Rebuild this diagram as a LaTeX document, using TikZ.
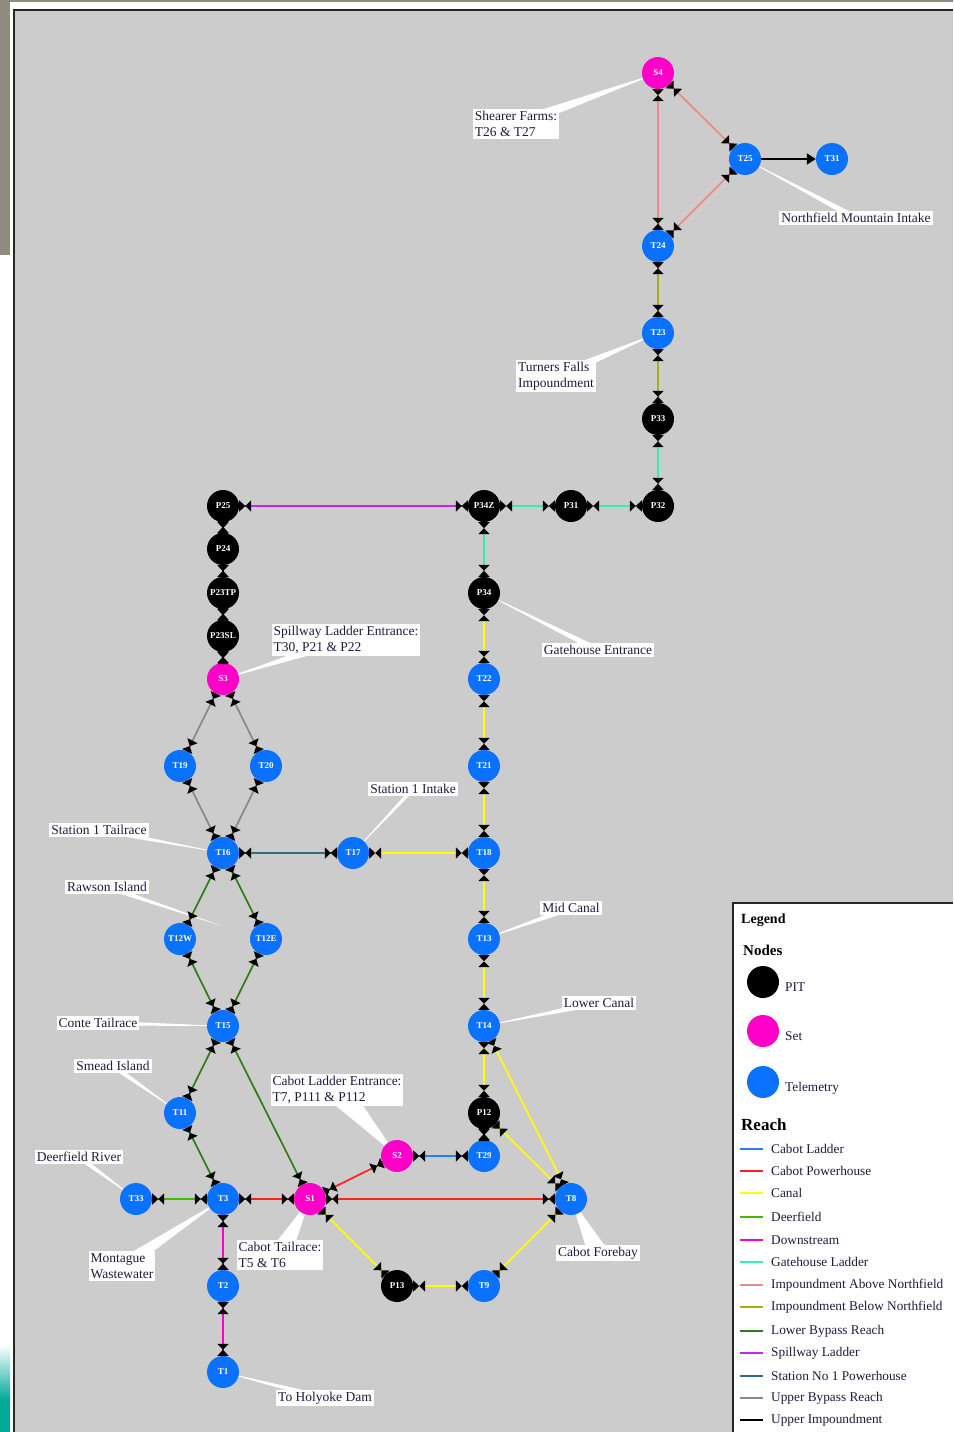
\documentclass[tikz,border=0pt]{standalone}
\usepackage{fontspec}
\setmainfont{Liberation Serif}
\usetikzlibrary{arrows.meta,calc}

\definecolor{panelgray}{HTML}{CCCCCC}
\definecolor{framegray}{HTML}{8F8B7F}
\definecolor{tealbar}{HTML}{00A898}
\definecolor{telblue}{HTML}{0A72FF}
\definecolor{setmag}{HTML}{FF00C8}
\definecolor{lbltext}{HTML}{1C1C40}
\definecolor{cabotladder}{HTML}{2080FF}
\definecolor{cabotpower}{HTML}{FF2020}
\definecolor{canal}{HTML}{FFFF00}
\definecolor{deerfield}{HTML}{44BB00}
\definecolor{downstream}{HTML}{FF00CC}
\definecolor{gatehouse}{HTML}{33EEBB}
\definecolor{impabove}{HTML}{F08888}
\definecolor{impbelow}{HTML}{AAAA22}
\definecolor{lowerbypass}{HTML}{2E7D14}
\definecolor{spillway}{HTML}{CC22EE}
\definecolor{stationone}{HTML}{2F6A8A}
\definecolor{upperbypass}{HTML}{888888}

\pgfdeclarelayer{back}
\pgfdeclarelayer{bg}
\pgfsetlayers{back,bg,main}

\tikzset{
  hg/.tip={Triangle[length=6pt,width=11pt,color=black,fill=black]
           Triangle[length=6pt,width=11pt,reversed,color=black,fill=black]},
  gnode/.style={circle,minimum size=32pt,inner sep=0pt,text=white,
    font=\fontsize{9}{9}\selectfont\bfseries},
  pit/.style={gnode,fill=black},
  setn/.style={gnode,fill=setmag},
  tel/.style={gnode,fill=telblue},
  reach/.style={line width=1.7pt,hg-hg},
  lbl/.style={fill=white,inner sep=2pt,align=left,text=lbltext,
    font=\fontsize{13.5}{16}\selectfont},
  lgtext/.style={anchor=west,inner sep=0pt,text=lbltext,font=\fontsize{13.3}{14}\selectfont},
  lghead/.style={anchor=west,inner sep=0pt,font=\fontsize{15}{16}\selectfont\bfseries},
  lgline/.style={line width=1.6pt}
}

\newcommand{\callout}[3]{%
  \begin{pgfonlayer}{bg}
    \fill[white] (#1.center) -- ($(#2.center)!#3!90:(#1.center)$)
      -- ($(#2.center)!#3!-90:(#1.center)$) -- cycle;
  \end{pgfonlayer}}

\begin{document}
\begin{tikzpicture}[x=1pt,y=-1pt]
\useasboundingbox (0,0) rectangle (953,1432);
\begin{pgfonlayer}{back}
  \fill[white] (0,0) rectangle (953,1432);
  \fill[framegray] (0,0) rectangle (10,255);
  \fill[framegray] (0,0) rectangle (953,2);
  \shade[top color=white,bottom color=tealbar] (0,1345) rectangle (10,1400);
  \fill[tealbar] (0,1400) rectangle (10,1432);
  \fill[panelgray] (14,10) rectangle (953,1432);
  \draw[black!85,line width=1.5pt] (14,1432) -- (14,10) -- (953,10);
  \fill[white] (733,903) rectangle (953,1432);
  \draw[black!85,line width=1.2pt] (733,1432) -- (733,903) -- (953,903);
\end{pgfonlayer}

% nodes
\node[setn] (S4) at (658,73) {S4};
\node[tel] (T25) at (745,159) {T25};
\node[tel] (T31) at (832,159) {T31};
\node[tel] (T24) at (658,246) {T24};
\node[tel] (T23) at (658,333) {T23};
\node[pit] (P33) at (658,419) {P33};
\node[pit] (P32) at (658,506) {P32};
\node[pit] (P31) at (571,506) {P31};
\node[pit] (P34Z) at (484,506) {P34Z};
\node[pit] (P25) at (223,506) {P25};
\node[pit] (P24) at (223,549) {P24};
\node[pit] (P23TP) at (223,593) {P23TP};
\node[pit] (P23SL) at (223,636) {P23SL};
\node[setn] (S3) at (223,679) {S3};
\node[pit] (P34) at (484,593) {P34};
\node[tel] (T22) at (484,679) {T22};
\node[tel] (T21) at (484,766) {T21};
\node[tel] (T18) at (484,853) {T18};
\node[tel] (T17) at (353,853) {T17};
\node[tel] (T16) at (223,853) {T16};
\node[tel] (T19) at (180,766) {T19};
\node[tel] (T20) at (266,766) {T20};
\node[tel] (T12W) at (180,939) {T12W};
\node[tel] (T12E) at (266,939) {T12E};
\node[tel] (T15) at (223,1026) {T15};
\node[tel] (T13) at (484,939) {T13};
\node[tel] (T14) at (484,1026) {T14};
\node[pit] (P12) at (484,1113) {P12};
\node[tel] (T29) at (484,1156) {T29};
\node[setn] (S2) at (397,1156) {S2};
\node[tel] (T11) at (180,1113) {T11};
\node[tel] (T3) at (223,1199) {T3};
\node[tel] (T33) at (136,1199) {T33};
\node[setn] (S1) at (310,1199) {S1};
\node[tel] (T8) at (571,1199) {T8};
\node[pit] (P13) at (397,1286) {P13};
\node[tel] (T9) at (484,1286) {T9};
\node[tel] (T2) at (223,1286) {T2};
\node[tel] (T1) at (223,1372) {T1};

% reaches
\draw[reach,impabove] (S4) -- (T24);
\draw[reach,impabove] (S4) -- (T25);
\draw[reach,impabove] (T25) -- (T24);
\draw[line width=1.7pt,-{Triangle[length=9pt,width=11pt]}] (T25) -- (T31);
\draw[reach,impbelow] (T24) -- (T23);
\draw[reach,impbelow] (T23) -- (P33);
\draw[reach,gatehouse] (P33) -- (P32);
\draw[reach,gatehouse] (P32) -- (P31);
\draw[reach,gatehouse] (P31) -- (P34Z);
\draw[reach,gatehouse] (P34Z) -- (P34);
\draw[reach,spillway] (P34Z) -- (P25);
\draw[reach,black] (P25) -- (P24);
\draw[reach,black] (P24) -- (P23TP);
\draw[reach,black] (P23TP) -- (P23SL);
\draw[reach,black] (P23SL) -- (S3);
\draw[reach,upperbypass] (S3) -- (T19);
\draw[reach,upperbypass] (S3) -- (T20);
\draw[reach,upperbypass] (T19) -- (T16);
\draw[reach,upperbypass] (T20) -- (T16);
\draw[reach,canal] (P34) -- (T22);
\draw[reach,canal] (T22) -- (T21);
\draw[reach,canal] (T21) -- (T18);
\draw[reach,canal] (T18) -- (T17);
\draw[reach,canal] (T18) -- (T13);
\draw[reach,canal] (T13) -- (T14);
\draw[reach,canal] (T14) -- (P12);
\draw[reach,canal] (T14) -- (T8);
\draw[reach,canal] (P12) -- (T8);
\draw[reach,canal] (T8) -- (T9);
\draw[reach,canal] (T9) -- (P13);
\draw[reach,canal] (P13) -- (S1);
\draw[reach,stationone] (T17) -- (T16);
\draw[reach,lowerbypass] (T16) -- (T12W);
\draw[reach,lowerbypass] (T16) -- (T12E);
\draw[reach,lowerbypass] (T12W) -- (T15);
\draw[reach,lowerbypass] (T12E) -- (T15);
\draw[reach,lowerbypass] (T15) -- (T11);
\draw[reach,lowerbypass] (T15) -- (S1);
\draw[reach,lowerbypass] (T11) -- (T3);
\draw[reach,deerfield] (T33) -- (T3);
\draw[reach,cabotpower] (T3) -- (S1);
\draw[reach,cabotpower] (S1) -- (T8);
\draw[reach,cabotpower] (S1) -- (S2);
\draw[reach,cabotladder] (S2) -- (T29);
\draw[reach,black] (P12) -- (T29);
\draw[reach,downstream] (T3) -- (T2);
\draw[reach,downstream] (T2) -- (T1);

% labels
\node[lbl] (lS4) at (516,124) {Shearer Farms:\\T26 \& T27};
\node[lbl] (lT25) at (856,218) {Northfield Mountain Intake};
\node[lbl] (lT23) at (556,376) {Turners Falls\\Impoundment};
\node[lbl] (lS3) at (346,640) {Spillway Ladder Entrance:\\T30, P21 \& P22};
\node[lbl] (lP34) at (598,650) {Gatehouse Entrance};
\node[lbl] (lT17) at (413,789) {Station 1 Intake};
\node[lbl] (lT16) at (99,830) {Station 1 Tailrace};
\node[lbl] (lRawson) at (107,887) {Rawson Island};
\node[lbl] (lT13) at (571,908) {Mid Canal};
\node[lbl] (lT14) at (599,1003) {Lower Canal};
\node[lbl] (lT15) at (98,1023) {Conte Tailrace};
\node[lbl] (lT11) at (113,1066) {Smead Island};
\node[lbl] (lS2) at (337,1090) {Cabot Ladder Entrance:\\T7, P111 \& P112};
\node[lbl] (lT33) at (79,1157) {Deerfield River};
\node[lbl] (lT3) at (122,1266) {Montague\\Wastewater};
\node[lbl] (lS1) at (280,1255) {Cabot Tailrace:\\T5 \& T6};
\node[lbl] (lT8) at (598,1253) {Cabot Forebay};
\node[lbl] (lT1) at (325,1398) {To Holyoke Dam};
\coordinate (rawsonpt) at (222,926);

\callout{S4}{lS4}{6pt}
\callout{T25}{lT25}{3pt}
\callout{T23}{lT23}{5pt}
\callout{S3}{lS3}{5pt}
\callout{P34}{lP34}{3pt}
\callout{T17}{lT17}{2pt}
\callout{T16}{lT16}{2.5pt}
\callout{rawsonpt}{lRawson}{2.5pt}
\callout{T13}{lT13}{3pt}
\callout{T14}{lT14}{3pt}
\callout{T15}{lT15}{2.5pt}
\callout{T11}{lT11}{2.5pt}
\callout{S2}{lS2}{13pt}
\callout{T33}{lT33}{2.5pt}
\callout{T3}{lT3}{7pt}
\callout{S1}{lS1}{11pt}
\callout{T8}{lT8}{10pt}
\callout{T1}{lT1}{3pt}

% legend
\node[lghead,font=\fontsize{14}{15}\selectfont\bfseries] (lgTitle) at (741,920) {Legend};
\node[lghead] (lgNodes) at (743,950) {Nodes};
\node[pit] (lgPit) at (763,982) {};
\node[setn] (lgSet) at (763,1031) {};
\node[tel] (lgTel) at (763,1082) {};
\node[lgtext] (lgPitT) at (785,987) {PIT};
\node[lgtext] (lgSetT) at (785,1036) {Set};
\node[lgtext] (lgTelT) at (785,1088) {Telemetry};
\node[lghead,font=\fontsize{17}{18}\selectfont\bfseries] (lgReach) at (741,1125) {Reach};
\draw[lgline,cabotladder] (740,1149) -- (763,1149);
\node[lgtext] (lr1) at (771,1149) {Cabot Ladder};
\draw[lgline,cabotpower] (740,1171) -- (763,1171);
\node[lgtext] (lr2) at (771,1171) {Cabot Powerhouse};
\draw[lgline,canal] (740,1193) -- (763,1193);
\node[lgtext] (lr3) at (771,1193) {Canal};
\draw[lgline,deerfield] (740,1217) -- (763,1217);
\node[lgtext] (lr4) at (771,1217) {Deerfield};
\draw[lgline,downstream] (740,1240) -- (763,1240);
\node[lgtext] (lr5) at (771,1240) {Downstream};
\draw[lgline,gatehouse] (740,1262) -- (763,1262);
\node[lgtext] (lr6) at (771,1262) {Gatehouse Ladder};
\draw[lgline,impabove] (740,1285) -- (763,1285);
\node[lgtext] (lr7) at (771,1285) {Impoundment Above Northfield};
\draw[lgline,impbelow] (740,1307) -- (763,1307);
\node[lgtext] (lr8) at (771,1307) {Impoundment Below Northfield};
\draw[lgline,lowerbypass] (740,1331) -- (763,1331);
\node[lgtext] (lr9) at (771,1331) {Lower Bypass Reach};
\draw[lgline,spillway] (740,1353) -- (763,1353);
\node[lgtext] (lr10) at (771,1353) {Spillway Ladder};
\draw[lgline,stationone] (740,1376) -- (763,1376);
\node[lgtext] (lr11) at (771,1376) {Station No 1 Powerhouse};
\draw[lgline,upperbypass] (740,1398) -- (763,1398);
\node[lgtext] (lr12) at (771,1398) {Upper Bypass Reach};
\draw[lgline,black] (740,1420) -- (763,1420);
\node[lgtext] (lr13) at (771,1420) {Upper Impoundment};
\end{tikzpicture}
\end{document}
